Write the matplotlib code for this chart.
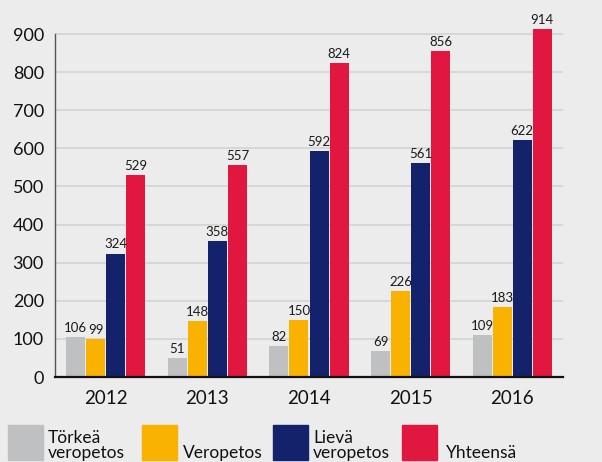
import numpy as np
import matplotlib.pyplot as plt
from matplotlib.patches import Rectangle

plt.rcParams['font.family'] = ['Lato', 'DejaVu Sans']

# data
years = ['2012', '2013', '2014', '2015', '2016']
torkea = [106, 51, 82, 69, 109]
veropetos = [99, 148, 150, 226, 183]
lieva = [324, 358, 592, 561, 622]
yhteensa = [529, 557, 824, 856, 914]

series = [torkea, veropetos, lieva, yhteensa]
names = ['Törkeä\nveropetos', 'Veropetos', 'Lievä\nveropetos', 'Yhteensä']
cols = ['#bfc0c1', '#f9b200', '#13226a', '#e2173f']

BG = '#ebeceb'

fig = plt.figure(figsize=(6.02, 4.62), dpi=100, facecolor=BG)
W, H = 602, 462
# axes: left 55px, right 563px, y=0 at 377px, y=930 at ~22px
ax = fig.add_axes([55/W, (H-377)/H, 508/W, (377-22.6)/H])
ax.set_facecolor(BG)

x = np.arange(len(years))
bw = 0.187
step = 0.197
for i, (vals, c) in enumerate(zip(series, cols)):
    pos = x + (i - 1.5)*step
    ax.bar(pos, vals, width=bw, color=c, zorder=3)
    for p, v in zip(pos, vals):
        ax.text(p, v + 8, str(v), ha='center', va='bottom', fontsize=9.5,
                color='#1a1a1a', zorder=4)

ax.set_xlim(-0.5, 4.5)
ax.set_ylim(0, 930)
ax.set_yticks(range(0, 901, 100))
ax.set_xticks(x)
ax.set_xticklabels(years)
ax.tick_params(axis='y', length=0, pad=8, labelsize=13, labelcolor='#111111')
ax.tick_params(axis='x', length=0, pad=9, labelsize=13.5, labelcolor='#111111')
ax.yaxis.grid(True, color='#d2d3d3', linewidth=1.2, zorder=0)
ax.set_axisbelow(True)
for s in ['top', 'right']:
    ax.spines[s].set_visible(False)
ax.spines['left'].set_bounds(0, 900)
ax.spines['left'].set_color('#555555')
ax.spines['left'].set_linewidth(1.0)
ax.spines['bottom'].set_color('#111111')
ax.spines['bottom'].set_linewidth(1.6)
ax.spines['bottom'].set_zorder(5)

# legend drawn by hand
sq_x = [8, 142, 273, 402]
txt_x = [48, 183, 313, 446]
for sx, tx, c, n in zip(sq_x, txt_x, cols, names):
    fig.add_artist(Rectangle((sx/W, (H-460)/H), 35/W, 35/H, color=c,
                             transform=fig.transFigure))
    fig.text(tx/W, (H-461)/H, n, ha='left', va='bottom', fontsize=12.5,
             linespacing=0.9, color='#111111')

fig.savefig('out.png', dpi=100, facecolor=BG)
